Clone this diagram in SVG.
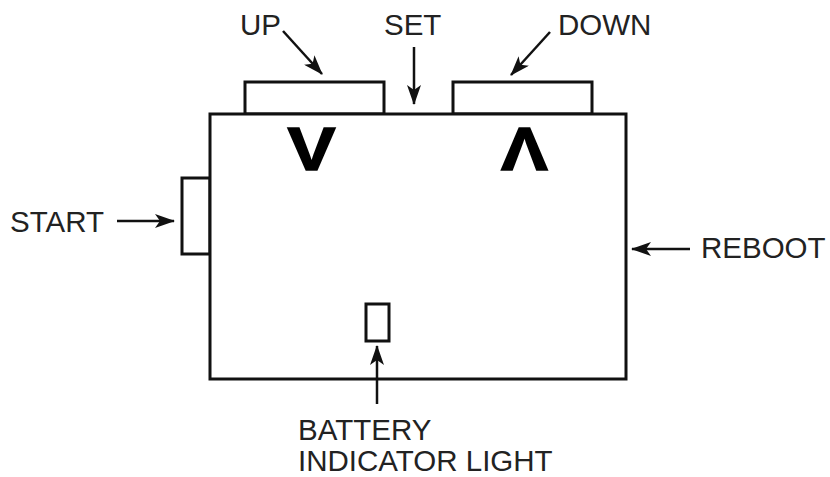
<svg xmlns="http://www.w3.org/2000/svg" width="830" height="477" viewBox="0 0 830 477">
<style>
.box{fill:#fff;stroke:#111;stroke-width:3}
.lbl{font-family:"Liberation Sans",Arial,sans-serif;font-size:29.5px;fill:#222}
.sym{font-family:"Liberation Sans",Arial,sans-serif;font-weight:bold;font-size:61px;fill:#000;stroke:#000;stroke-width:1.5}
.con{stroke:#111;stroke-width:2.5;fill:none;marker-end:url(#ah)}
</style>
<defs>
<marker id="ah" viewBox="0 0 20 14" refX="19" refY="7" markerWidth="20" markerHeight="14" markerUnits="userSpaceOnUse" orient="auto">
<path d="M0,0 L20,7 L0,14 L5,7 Z" fill="#111"/>
</marker>
</defs>
<rect width="830" height="477" fill="#fff"/>
<g id="up-button"><rect class="box" x="245" y="82" width="139" height="32"/></g>
<g id="down-button"><rect class="box" x="453" y="82" width="139" height="32"/></g>
<g id="start-button"><rect class="box" x="182" y="178" width="28" height="76"/></g>
<g id="body">
<rect class="box" x="210" y="114" width="416" height="265"/>
<text class="sym" transform="translate(311.5,169.5) scale(1.18,1)" text-anchor="middle">V</text>
<text class="sym" transform="translate(524.5,169.5) scale(1.15,1)" text-anchor="middle">Λ</text>
</g>
<g id="battery-light"><rect class="box" x="366" y="304" width="23" height="37" stroke-width="2.5"/></g>
<g id="labels">
<text class="lbl" x="240" y="35">UP</text>
<text class="lbl" x="384" y="35">SET</text>
<text class="lbl" x="558" y="35">DOWN</text>
<text class="lbl" x="10" y="232">START</text>
<text class="lbl" x="701" y="258">REBOOT</text>
<text class="lbl" x="298" y="440">BATTERY</text>
<text class="lbl" x="298" y="471">INDICATOR LIGHT</text>
</g>
<g id="connectors">
<line class="con" x1="283" y1="31" x2="322" y2="74"/>
<line class="con" x1="414" y1="47" x2="414" y2="104"/>
<line class="con" x1="550" y1="32" x2="511" y2="75"/>
<line class="con" x1="117" y1="221" x2="174" y2="221"/>
<line class="con" x1="690" y1="249" x2="632" y2="249"/>
<line class="con" x1="377" y1="404" x2="377" y2="346"/>
</g>
</svg>
